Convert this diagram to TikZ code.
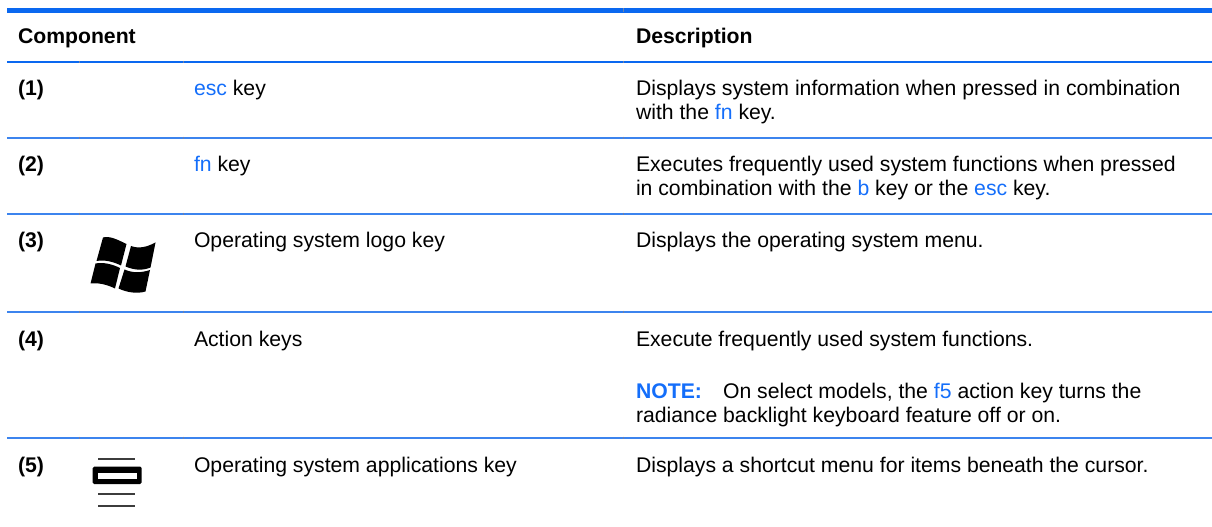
\documentclass[tikz,border=0pt]{standalone}
\usepackage{fontspec}
\setmainfont{Liberation Sans}
\definecolor{hpblue}{RGB}{10,104,240}
\definecolor{rowblue}{RGB}{60,132,238}
\definecolor{linkblue}{RGB}{20,110,250}
\definecolor{tickc}{RGB}{110,130,170}
\definecolor{icongray}{RGB}{60,60,60}
\begin{document}
\begin{tikzpicture}[x=1bp,y=-1bp,
  txt/.style={anchor=base west, inner sep=0pt, outer sep=0pt, font=\fontsize{21.2bp}{24bp}\selectfont},
  bt/.style={txt, font=\fontsize{21.2bp}{24bp}\selectfont\bfseries},
  thickrule/.style={draw=hpblue, line width=4.5bp},
  headrule/.style={draw=hpblue, line width=2.4bp},
  rowrule/.style={draw=rowblue, line width=1.8bp},
  tick/.style={draw=tickc, line width=1bp}]
\useasboundingbox (0,0) rectangle (1212,527);
\newcommand{\lk}[1]{\textcolor{linkblue}{#1}}
% rules
\draw[thickrule] (7,10.5) -- (1212,10.5);
\draw[headrule] (7,62) -- (1212,62);
\foreach \yy in {138,214,312,438} {\draw[rowrule] (7,\yy) -- (1212,\yy);}
\foreach \xx in {79,183,623} {
  \foreach \yy in {62,138,214,312,438} {\draw[tick] (\xx,\yy-1.3) -- (\xx,\yy+1.3);}
}
\draw[tick] (623,8.5) -- (623,12.5);
% header
\node[bt] (hc) at (18,43.5) {Component};
\node[bt] (hd) at (636,43.5) {Description};
% row 1
\node[bt] (n1) at (18,96) {(1)};
\node[txt] (c1) at (194,96) {\lk{esc} key};
\node[txt] (d1a) at (636,96) {Displays system information when pressed in combination};
\node[txt] (d1b) at (636,120) {with the \lk{fn} key.};
% row 2
\node[bt] (n2) at (18,172) {(2)};
\node[txt] (c2) at (194,172) {\lk{fn} key};
\node[txt] (d2a) at (636,172) {Executes frequently used system functions when pressed};
\node[txt] (d2b) at (636,196) {in combination with the \lk{b} key or the \lk{esc} key.};
% row 3
\node[bt] (n3) at (18,248) {(3)};
\node[txt] (c3) at (194,248) {Operating system logo key};
\node[txt] (d3a) at (636,248) {Displays the operating system menu.};
\fill[black] (103,237.5) .. controls (110,235.5) and (118,240) .. (126.5,244)
  -- (121,265.5) .. controls (113,261.5) and (104,259.5) .. (96.5,261) -- cycle;
\fill[black] (131,246) .. controls (139,249) and (147,247) .. (155.5,242.5)
  -- (150.5,267.5) .. controls (142,271) and (134,270) .. (125.5,266.5) -- cycle;
\fill[black] (95.5,263.5) .. controls (103,262) and (112,264) .. (120,268)
  -- (115,288.5) .. controls (107,284.5) and (98,282.5) .. (90.5,283.5) -- cycle;
\fill[black] (124.5,269.5) .. controls (132,273) and (141,273) .. (150,270)
  -- (145.5,291.5) .. controls (137,294) and (127,292.5) .. (118.5,288.5) -- cycle;
% row 4
\node[bt] (n4) at (18,346.5) {(4)};
\node[txt] (c4) at (194,346.5) {Action keys};
\node[txt] (d4a) at (636,346.5) {Execute frequently used system functions.};
\node[bt] (d4n) at (636,398) {\lk{NOTE:}};
\node[txt] (d4b) at (723,398) {On select models, the \lk{f5} action key turns the};
\node[txt] (d4c) at (636,422) {radiance backlight keyboard feature off or on.};
% row 5
\node[bt] (n5) at (18,472) {(5)};
\node[txt] (c5) at (194,472) {Operating system applications key};
\node[txt] (d5a) at (636,472) {Displays a shortcut menu for items beneath the cursor.};
\fill[black, rounded corners=1.5bp] (92.7,466.7) rectangle (141.7,484);
\fill[white] (98,473) rectangle (137,479);
\draw[icongray, line width=2bp] (98,459.3) -- (135,459.3);
\draw[icongray, line width=2bp] (98,494) -- (135,494);
\draw[icongray, line width=2bp] (98,506) -- (135,506);
\end{tikzpicture}
\end{document}
